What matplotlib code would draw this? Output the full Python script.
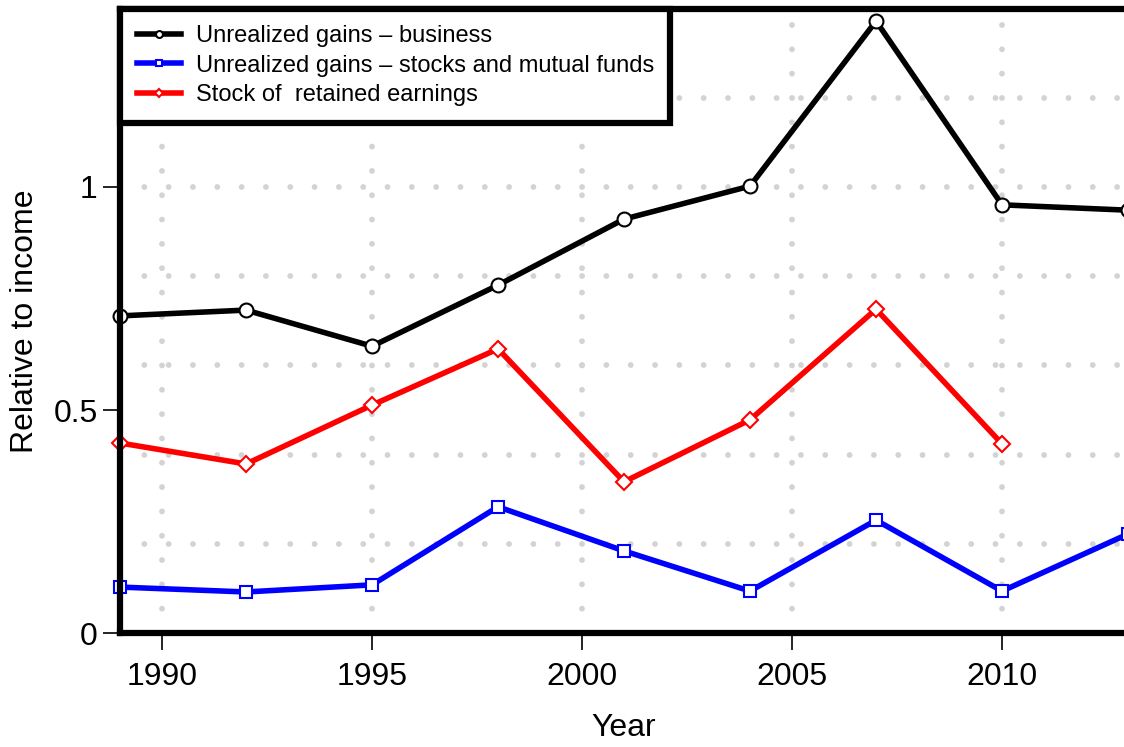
import matplotlib
matplotlib.use("Agg")
from matplotlib import pyplot as plt

plt.rcParams["font.family"] = ["Liberation Sans", "DejaVu Sans"]
plt.rcParams["lines.scale_dashes"] = False

years = [1989, 1992, 1995, 1998, 2001, 2004, 2007, 2010, 2013]
business = [0.711, 0.724, 0.643, 0.780, 0.928, 1.002, 1.372, 0.960, 0.948]
stocks = [0.103, 0.092, 0.108, 0.283, 0.184, 0.094, 0.253, 0.094, 0.222]
retained_years = [1989, 1992, 1995, 1998, 2001, 2004, 2007, 2010]
retained = [0.426, 0.379, 0.511, 0.637, 0.339, 0.478, 0.726, 0.424]

x_ticks = [1990, 1995, 2000, 2005, 2010]
y_ticks = [0, 0.5, 1]
y_ticklabels = ["0", "0.5", "1"]
y_grid = [0.2, 0.4, 0.6, 0.8, 1.0, 1.2]

fig = plt.figure(figsize=(11.24, 7.47), dpi=100)
ax = fig.add_axes([0.1068, 0.1526, 0.8968, 0.8359])

# dotted grey grid, like R's abline(lty=3)
dots = (0, (0.01, 17.5))
for gx in x_ticks:
    ax.axvline(gx, color="#d3d3d3", lw=4.2, ls=dots, dash_capstyle="round", zorder=0)
for gy in y_grid:
    ax.axhline(gy, color="#d3d3d3", lw=4.2, ls=dots, dash_capstyle="round", zorder=0)

ax.plot(years, business, color="black", lw=4, marker="o", ms=10,
        mfc="white", mec="black", mew=1.5, label="Unrealized gains \u2013 business", clip_on=False)
ax.plot(years, stocks, color="blue", lw=4, marker="s", ms=9,
        mfc="white", mec="blue", mew=1.5, label="Unrealized gains \u2013 stocks and mutual funds", clip_on=False)
ax.plot(retained_years, retained, color="red", lw=4, marker="D", ms=8.5,
        mfc="white", mec="red", mew=1.5, label="Stock of  retained earnings", clip_on=False)

ax.set_xlim(1989, 2013)
ax.set_ylim(0, 1.4)
ax.set_xticks(x_ticks)
ax.set_yticks(y_ticks)
ax.set_yticklabels(y_ticklabels)
ax.tick_params(axis="both", direction="out", length=12, width=1.2, labelsize=23)
ax.tick_params(axis="x", pad=9)
ax.tick_params(axis="y", pad=4)
for s in ax.spines.values():
    s.set_linewidth(4.5)

ax.set_xlabel("Year", fontsize=23, labelpad=15)
ax.set_ylabel("Relative to income", fontsize=23, labelpad=10)

leg = ax.legend(loc="upper left", bbox_to_anchor=(0, 1), borderaxespad=0,
                fontsize=17, handlelength=1.9, handletextpad=0.6,
                labelspacing=0.32, borderpad=0.7, fancybox=False,
                framealpha=1, edgecolor="black", markerscale=0.5)
leg.get_frame().set_linewidth(4.5)
leg.set_zorder(5)

plt.savefig("out.png", dpi=100)
